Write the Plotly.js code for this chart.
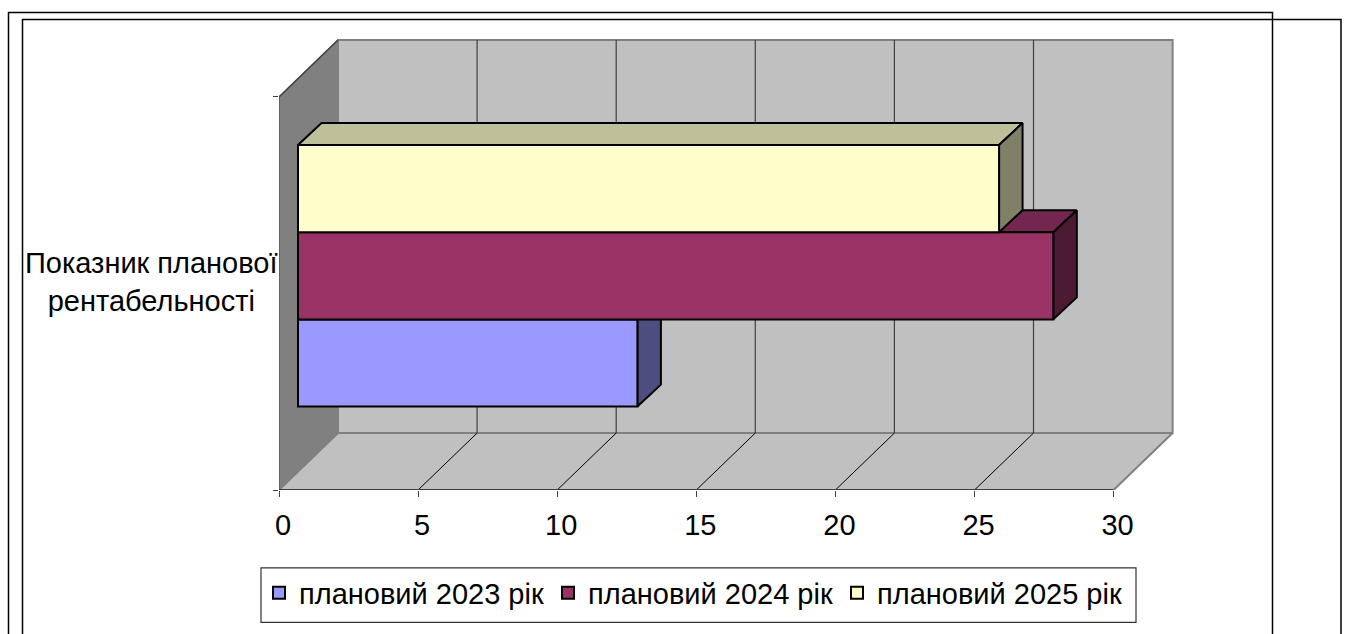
<!DOCTYPE html>
<html>
<head>
<meta charset="utf-8">
<script src="https://cdn.plot.ly/plotly-3.0.1.min.js"></script>
<style>html,body{margin:0;padding:0;background:#fff;overflow:hidden}#chart{width:1346px;height:634px}</style>
</head>
<body>
<div id="chart"></div>
<script>
// Data
const categoryLabel = 'Показник планової<br>рентабельності';
const seriesNames = ['плановий 2023 рік', 'плановий 2024 рік', 'плановий 2025 рік'];
const seriesValues = [12.2, 27.15, 25.2];
const xTicks = [0, 5, 10, 15, 20, 25, 30];

// Styles
const frontColors = ['#9999FF', '#993366', '#FFFFCC'];
const topColors = ['#737399', '#732650', '#BFBF99'];
const sideColors = ['#4D4D80', '#4D1A33', '#808066'];
const FONT = '"Liberation Sans", Arial, sans-serif';
const FS = 29;

// Layout geometry (pixels of the page)
const L = 279, R = 1182, T = 32, B = 490.5;
const pxPerX = 27.82, pxPerY = 393.5;
const xMax = (R - L) / pxPerX, yMax = (B - T) / pxPerY;
const X = p => (p - L) / (R - L);
const Y = p => (B - p) / (B - T);

// Oblique projection, in axis units
const wallDX = 59 / pxPerX, wallDY = 57 / pxPerY;
const barStart = 19 / pxPerX;
const barDX = 23.5 / pxPerX, barDY = 22 / pxPerY;
const barBottom = 83.5 / pxPerY, barH = 87.3 / pxPerY;

const traces = [];
function poly(xs, ys, fill, lineColor, lineW, z) {
  traces.push({type: 'scatter', mode: 'lines', x: xs.concat(xs[0]), y: ys.concat(ys[0]),
    fill: 'toself', fillcolor: fill, line: {color: lineColor, width: lineW},
    showlegend: false, hoverinfo: 'skip', cliponaxis: false, zorder: z});
}
function seg(xs, ys, color, w, z) {
  traces.push({type: 'scatter', mode: 'lines', x: xs, y: ys, line: {color: color, width: w},
    showlegend: false, hoverinfo: 'skip', cliponaxis: false, zorder: z});
}

// Walls and floor
poly([0, wallDX, wallDX, 0], [0, wallDY, 1 + wallDY, 1], '#808080', '#808080', 1.5, 0);
poly([wallDX, 30 + wallDX, 30 + wallDX, wallDX], [wallDY, wallDY, 1 + wallDY, 1 + wallDY], '#C0C0C0', '#808080', 2, 0);
poly([0, 30, 30 + wallDX, wallDX], [0, 0, wallDY, wallDY], '#C0C0C0', '#808080', 2, 0);
xTicks.slice(1, -1).forEach(t => {
  seg([t + wallDX, t + wallDX], [wallDY, 1 + wallDY], '#404040', 1.2, 1);
  seg([t, t + wallDX], [0, wallDY], '#000000', 1, 1);
});
seg([0, wallDX], [1, 1 + wallDY], '#404040', 1.5, 1);
seg([0, 30], [0, 0], '#404040', 2, 1);
seg([0, 0], [0, 1], '#404040', 1, 1);

// Bars: front faces are real bar traces, depth faces derive from the same values
seriesValues.forEach((v, i) => {
  const y0 = barBottom + i * barH, y1 = y0 + barH;
  const x0 = barStart, x1 = barStart + v;
  const zBase = 10 + i * 3;
  poly([x0, x1, x1 + barDX, x0 + barDX], [y1, y1, y1 + barDY, y1 + barDY], topColors[i], '#000000', 2, zBase);
  poly([x1, x1 + barDX, x1 + barDX, x1], [y0, y0 + barDY, y1 + barDY, y1], sideColors[i], '#000000', 2, zBase + 1);
  traces.push({type: 'bar', orientation: 'h', name: seriesNames[i], x: [v], base: [barStart],
    y: [y0 + barH / 2], width: [barH],
    marker: {color: frontColors[i], line: {color: '#000000', width: 2}},
    hoverinfo: 'x+name', zorder: zBase + 2});
});

const framePath = (a, b, c) => `M${X(a)},${Y(660)} L${X(a)},${Y(b)} L${X(c)},${Y(b)} L${X(c)},${Y(660)}`;

const layout = {
  width: 1346, height: 634, autosize: false,
  margin: {l: L, r: 1346 - R, t: T, b: 634 - B, pad: 0},
  paper_bgcolor: '#ffffff', plot_bgcolor: 'rgba(0,0,0,0)',
  barmode: 'overlay',
  font: {family: FONT, size: FS, color: '#000000'},
  xaxis: {range: [0, xMax], tickmode: 'array', tickvals: xTicks, ticktext: xTicks.map(String),
    ticks: 'outside', ticklen: 6, tickcolor: '#404040', tickwidth: 1, showgrid: false, zeroline: false,
    showline: false, ticklabelshift: 4, ticklabelstandoff: 3,
    tickfont: {family: FONT, size: FS, color: '#000'}, automargin: false, fixedrange: true},
  yaxis: {range: [0, yMax], tickmode: 'array', tickvals: [0, 1], ticks: 'outside', ticklen: 5,
    tickcolor: '#404040', tickwidth: 1, showticklabels: false, showgrid: false, zeroline: false,
    showline: false, automargin: false, fixedrange: true},
  showlegend: true,
  legend: {orientation: 'h', xref: 'container', yref: 'container', x: 259 / 1346, y: 1 - 567.5 / 634,
    xanchor: 'left', yanchor: 'top',
    bgcolor: 'rgba(0,0,0,0)', borderwidth: 0, entrywidth: 244, entrywidthmode: 'pixels',
    traceorder: 'normal', font: {family: FONT, size: FS, color: '#000'}},
  annotations: [{xref: 'paper', yref: 'paper', x: X(151), y: Y(282.5), xanchor: 'center', yanchor: 'middle',
    text: categoryLabel, showarrow: false, align: 'center', font: {family: FONT, size: FS, color: '#000'}}],
  shapes: [
    {type: 'path', xref: 'paper', yref: 'paper', path: framePath(8.5, 12.5, 1272.5), line: {color: '#000', width: 1.5}},
    {type: 'path', xref: 'paper', yref: 'paper', path: framePath(22.5, 19.5, 1341), line: {color: '#000', width: 1.5}},
    {type: 'rect', xref: 'paper', yref: 'paper', x0: X(261), x1: X(1136), y0: Y(568.5), y1: Y(623),
      line: {color: '#333', width: 1.2}, fillcolor: '#fff', layer: 'below'}
  ]
};

Plotly.newPlot('chart', traces, layout, {displayModeBar: false, responsive: false});
</script>
</body>
</html>
